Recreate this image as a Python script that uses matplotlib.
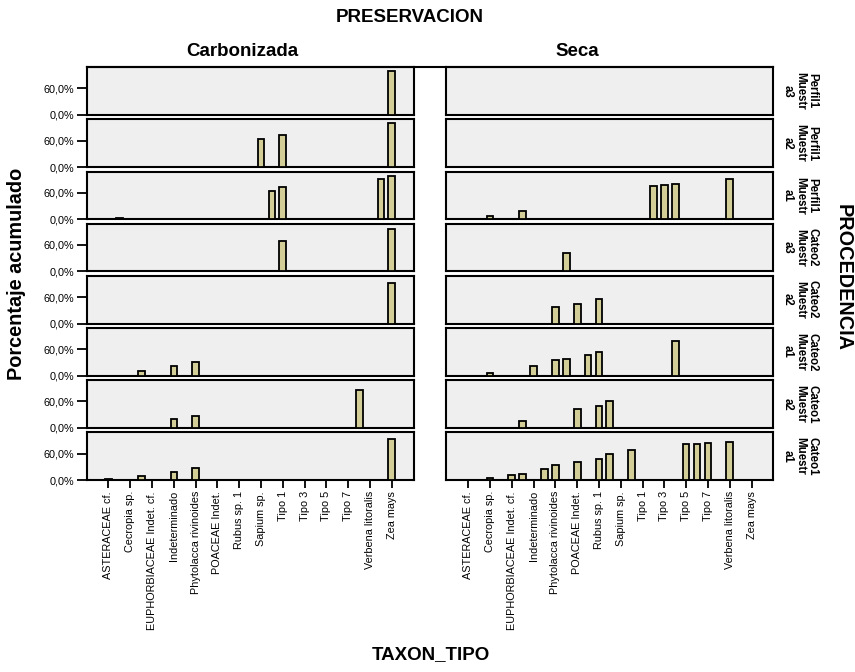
import matplotlib
matplotlib.use("Agg")
import matplotlib.pyplot as plt
from matplotlib.lines import Line2D

plt.rcParams['font.family'] = ['Liberation Sans', 'DejaVu Sans']

# Taxon categories in axis order (only every other one gets a tick label)
taxa = [
    "ASTERACEAE cf.", "Baccharis sp.", "Cecropia sp.", "Croton sp.",
    "EUPHORBIACEAE Indet. cf.", "FABACEAE Indet.", "Indeterminado", "Miconia sp.",
    "Phytolacca rivinoides", "Piper sp.", "POACEAE Indet.", "Psidium sp.",
    "Rubus sp. 1", "Rubus sp. 2", "Sapium sp.", "Solanum sp.",
    "Tipo 1", "Tipo 2", "Tipo 3", "Tipo 4", "Tipo 5", "Tipo 6", "Tipo 7", "Tipo 8",
    "Verbena litoralis", "Vismia sp.", "Zea mays",
]

preservation = ["Carbonizada", "Seca"]

origin_rows = [
    "Perfil1\nMuestr\na3", "Perfil1\nMuestr\na2", "Perfil1\nMuestr\na1",
    "Cateo2\nMuestr\na3", "Cateo2\nMuestr\na2", "Cateo2\nMuestr\na1",
    "Cateo1\nMuestr\na2", "Cateo1\nMuestr\na1",
]

y_ticks = [0, 60]
y_tick_labels = ["0,0%", "60,0%"]

# Cumulative percentage per taxon (0 = no bar), one list per origin row
carbonizada = [
    # Perfil1 Muestra3
    [0, 0, 0, 0, 0, 0, 0, 0, 0, 0, 0, 0, 0, 0, 0, 0, 0, 0, 0, 0, 0, 0, 0, 0, 0, 0, 99],
    # Perfil1 Muestra2
    [0, 0, 0, 0, 0, 0, 0, 0, 0, 0, 0, 0, 0, 0, 63, 0, 72.5, 0, 0, 0, 0, 0, 0, 0, 0, 0, 99],
    # Perfil1 Muestra1
    [0, 3, 0, 0, 0, 0, 0, 0, 0, 0, 0, 0, 0, 0, 0, 65, 72, 0, 0, 0, 0, 0, 0, 0, 0, 91, 98],
    # Cateo2 Muestra3
    [0, 0, 0, 0, 0, 0, 0, 0, 0, 0, 0, 0, 0, 0, 0, 0, 70, 0, 0, 0, 0, 0, 0, 0, 0, 0, 96],
    # Cateo2 Muestra2
    [0, 0, 0, 0, 0, 0, 0, 0, 0, 0, 0, 0, 0, 0, 0, 0, 0, 0, 0, 0, 0, 0, 0, 0, 0, 0, 93],
    # Cateo2 Muestra1
    [0, 0, 0, 11, 0, 0, 22, 0, 31, 0, 0, 0, 0, 0, 0, 0, 0, 0, 0, 0, 0, 0, 0, 0, 0, 0, 0],
    # Cateo1 Muestra2
    [0, 0, 0, 0, 0, 0, 21, 0, 28, 0, 0, 0, 0, 0, 0, 0, 0, 0, 0, 0, 0, 0, 0, 86, 0, 0, 0],
    # Cateo1 Muestra1
    [2.5, 0, 0, 9, 0, 0, 18.5, 0, 27, 0, 0, 0, 0, 0, 0, 0, 0, 0, 0, 0, 0, 0, 0, 0, 0, 0, 92],
]

seca = [
    # Perfil1 Muestra3
    [0] * 27,
    # Perfil1 Muestra2
    [0] * 27,
    # Perfil1 Muestra1
    [0, 0, 7, 0, 0, 17.5, 0, 0, 0, 0, 0, 0, 0, 0, 0, 0, 0, 75.5, 77, 80, 0, 0, 0, 0, 90.5, 0, 0],
    # Cateo2 Muestra3
    [0, 0, 0, 0, 0, 0, 0, 0, 0, 41, 0, 0, 0, 0, 0, 0, 0, 0, 0, 0, 0, 0, 0, 0, 0, 0, 0],
    # Cateo2 Muestra2
    [0, 0, 0, 0, 0, 0, 0, 0, 36.5, 0, 45, 0, 55, 0, 0, 0, 0, 0, 0, 0, 0, 0, 0, 0, 0, 0, 0],
    # Cateo2 Muestra1
    [0, 0, 5.5, 0, 0, 0, 23, 0, 35, 38, 0, 46.5, 54, 0, 0, 0, 0, 0, 0, 78, 0, 0, 0, 0, 0, 0, 0],
    # Cateo1 Muestra2
    [0, 0, 0, 0, 0, 15, 0, 0, 0, 0, 43, 0, 49, 60.5, 0, 0, 0, 0, 0, 0, 0, 0, 0, 0, 0, 0, 0],
    # Cateo1 Muestra1
    [0, 0, 3.5, 0, 12, 14, 0, 24.5, 33.5, 0, 42, 0, 48, 58, 0, 67.5, 0, 0, 0, 0, 81, 82.5, 84, 0, 87, 0, 0],
]

BAR_FILL = "#d3ce97"
PANEL_BG = "#efefef"

W, H = 855, 672
fig = plt.figure(figsize=(W / 100, H / 100), dpi=100)
axes = fig.subplots(len(origin_rows), 2, sharex=True, sharey=True)
fig.subplots_adjust(left=86.7 / W, right=773.3 / W, top=1 - 67.3 / H,
                    bottom=1 - 480 / H, wspace=0.1, hspace=0.097)

columns = [carbonizada, seca]
xs = list(range(len(taxa)))

for r in range(len(origin_rows)):
    for c in range(2):
        ax = axes[r, c]
        ax.set_facecolor(PANEL_BG)
        vals = columns[c][r]
        px = [x for x, v in zip(xs, vals) if v > 0]
        pv = [v for v in vals if v > 0]
        if px:
            ax.bar(px, pv, width=0.62, color=BAR_FILL, edgecolor="black",
                   linewidth=1.3, zorder=3)
        ax.set_xlim(-2, len(taxa) + 1)
        ax.set_ylim(0, 108)
        for s in ax.spines.values():
            s.set_linewidth(1.5)
            s.set_color("black")
            s.set_zorder(2)
        ax.set_yticks(y_ticks)
        ax.set_yticklabels(y_tick_labels)
        ax.tick_params(axis="y", length=7, width=1.3, labelsize=7.8, pad=2,
                       left=(c == 0), labelleft=(c == 0))
        ax.set_xticks(xs[::2])
        ax.set_xticklabels(taxa[::2], rotation=90)
        last = r == len(origin_rows) - 1
        ax.tick_params(axis="x", length=6, width=1.3, labelsize=7.8, pad=2,
                       bottom=last, labelbottom=last)

# Row labels on the right
for r, lab in enumerate(origin_rows):
    pos = axes[r, 1].get_position()
    fig.text(800 / W, (pos.y0 + pos.y1) / 2, lab, rotation=-90, ha="center",
             va="center", multialignment="center", fontsize=8.3,
             fontweight="bold", linespacing=1.0)

# Line joining the panel tops across both columns
top_y = axes[0, 0].get_position().y1
fig.add_artist(Line2D([86.7 / W, 773.3 / W], [top_y, top_y], color="black",
                      linewidth=1.5, transform=fig.transFigure))

fig.text(410 / W, 1 - 18 / H, "PRESERVACION", ha="center", va="center",
         fontsize=13.5, fontweight="bold")
fig.text(242 / W, 1 - 51 / H, preservation[0], ha="center", va="center",
         fontsize=13.5, fontweight="bold")
fig.text(577 / W, 1 - 51 / H, preservation[1], ha="center", va="center",
         fontsize=13.5, fontweight="bold")
fig.text(17 / W, 1 - 274 / H, "Porcentaje acumulado", rotation=90,
         ha="center", va="center", fontsize=14.3, fontweight="bold")
fig.text(843 / W, 1 - 278 / H, "PROCEDENCIA", rotation=-90,
         ha="center", va="center", fontsize=14.3, fontweight="bold")
fig.text(431 / W, 1 - 655 / H, "TAXON_TIPO", ha="center", va="center",
         fontsize=13.5, fontweight="bold")

fig.savefig("out.png", dpi=100)
